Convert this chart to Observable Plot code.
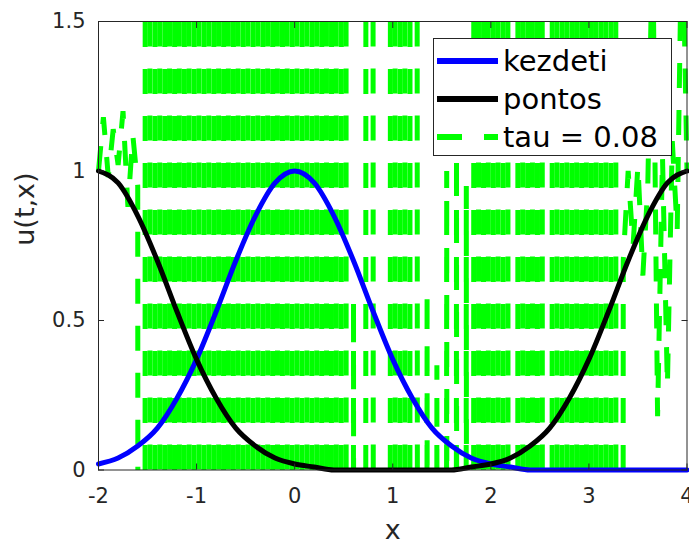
<!DOCTYPE html>
<html>
<head>
<meta charset="utf-8">
<script src="https://cdn.jsdelivr.net/npm/d3@7"></script>
<script src="https://cdn.jsdelivr.net/npm/@observablehq/plot@0.6"></script>
<style>
  html, body { margin: 0; padding: 0; background: #fff; }
  #wrap { position: relative; width: 689px; height: 544px; font-family: "DejaVu Sans", sans-serif; }
  #legend {
    position: absolute; left: 433px; top: 38px; width: 237px;
    border: 1px solid #262626; background: #fff; box-sizing: content-box;
    padding-top: 3px; height: 113px;
  }
  #legend .row { display: flex; align-items: center; height: 38px; }
  #legend svg { margin-left: 3px; flex: none; }
  #legend span { margin-left: 5px; font-size: 29px; color: #000; white-space: pre; line-height: 38px; }
  g[aria-label="ylabel"] text { letter-spacing: 3px; }
</style>
</head>
<body>
<div id="wrap">
  <div id="chart"></div>
  <div id="legend"></div>
</div>
<script>
// Axis ticks
const xTicks = [-2, -1, 0, 1, 2, 3, 4];
const yTicks = [0, 0.5, 1, 1.5];

// Initial profile ("kezdeti") and exact solution ("pontos") on a 0.2 grid
const profileX = d3.range(-2, 4.0001, 0.2);
const kezdeti = [0.02, 0.04, 0.08, 0.14, 0.24, 0.37, 0.53, 0.70, 0.85, 0.96,
                 1.00, 0.96, 0.85, 0.70, 0.53, 0.37, 0.24, 0.14, 0.08, 0.04,
                 0.02, 0.01, 0, 0, 0, 0, 0, 0, 0, 0, 0];
const pontos  = [1.00, 0.96, 0.85, 0.70, 0.53, 0.37, 0.24, 0.14, 0.08, 0.04,
                 0.02, 0.01, 0, 0, 0, 0, 0, 0, 0, 0.01,
                 0.02, 0.04, 0.08, 0.14, 0.24, 0.37, 0.53, 0.70, 0.85, 0.96, 1.00];

// Numerical solution with tau = 0.08 on a 0.05 grid (unstable: +-40 means far off scale)
const tauX = d3.range(-2, 4.0001, 0.05);
const tau008 = [
  1.00, 1.18, 0.98, 1.14, 1.02, 1.20, 0.88, 1.12, 0.95, -40,
  40, -40, 40, -40, 40, -40, 40, -40, 40, -40,
  40, -40, 40, -40, 40, -40, 40, -40, 40, -40,
  40, -40, 40, -40, 40, -40, 40, -40, 40, -40,
  40, -40, 40, -40, 40, -40, 40, -40, 40, -40,
  40,
  -40, 0.57, -40, -40, 40, 1.05, -40, -40, -40, 40,
  -40, 40, -40, 40, 0.70, -40, 0.60, -40, 0.35, -40,
  1.00, -40, 1.05, -40, 0.95, -40,
  40, -40, 40, -40, 40, -40, 40, -40, -40, 40,
  -40, 40, -40, 40, -40, -40, 40, -40, 40, -40,
  40, -40, 40, -40, 40, -40, 40, -40, 40, -40,
  0.70, 1.00, 0.75, 1.02, 0.65, 0.95, 1.80, 0.18, 1.05, 0.28,
  1.10, 0.80, 1.90, 1.00
];

const seriesNames = ["kezdeti", "pontos", "tau = 0.08"];
const seriesColors = ["#0000ff", "#000000", "#00ff00"];

const yMin = 0, yMax = 1.5;

// Cut the dashed polyline at the axes limits so each visible run starts its dash pattern at the edge
function clipRuns(xs, ys) {
  const out = [];
  let run = -1, open = false;
  for (let i = 0; i < xs.length - 1; i++) {
    const ax = xs[i], ay = ys[i], bx = xs[i + 1], by = ys[i + 1];
    const dy = by - ay;
    let t0 = 0, t1 = 1;
    if (dy === 0) {
      if (ay < yMin || ay > yMax) { open = false; continue; }
    } else {
      let ta = (yMin - ay) / dy, tb = (yMax - ay) / dy;
      if (ta > tb) [ta, tb] = [tb, ta];
      t0 = Math.max(0, ta); t1 = Math.min(1, tb);
      if (t0 > t1) { open = false; continue; }
    }
    const p0 = {x: ax + (bx - ax) * t0, y: ay + dy * t0};
    const p1 = {x: ax + (bx - ax) * t1, y: ay + dy * t1};
    if (t0 > 0 || !open) { run++; out.push({...p0, run}); open = true; }
    out.push({...p1, run});
    if (t1 < 1) open = false;
  }
  return out;
}

const tauPts = clipRuns(tauX, tau008);
const kezdetiPts = profileX.map((x, i) => ({x, y: kezdeti[i]}));
const pontosPts = profileX.map((x, i) => ({x, y: pontos[i]}));

const axisColor = "#262626";

const chart = Plot.plot({
  width: 689,
  height: 544,
  marginLeft: 98,
  marginRight: 2.5,
  marginTop: 21,
  marginBottom: 74.5,
  style: {fontFamily: "DejaVu Sans", background: "#fff", color: axisColor, overflow: "visible"},
  x: {domain: [-2, 4], axis: null},
  y: {domain: [yMin, yMax], axis: null},
  marks: [
    Plot.line(tauPts, {x: "x", y: "y", z: "run", stroke: seriesColors[2], strokeWidth: 5,
      strokeDasharray: "25,22", strokeLinecap: "butt", strokeLinejoin: "miter"}),
    Plot.line(kezdetiPts, {x: "x", y: "y", stroke: seriesColors[0], strokeWidth: 5, curve: "monotone-x"}),
    Plot.line(pontosPts, {x: "x", y: "y", stroke: seriesColors[1], strokeWidth: 5, curve: "monotone-x"}),
    Plot.frame({stroke: axisColor, strokeWidth: 1}),
    Plot.axisX({anchor: "bottom", ticks: xTicks, tickSize: -6, tickFormat: () => "", label: null, stroke: axisColor}),
    Plot.axisX({anchor: "top", ticks: xTicks, tickSize: -6, tickFormat: () => "", label: null, stroke: axisColor}),
    Plot.axisY({anchor: "left", ticks: yTicks, tickSize: -6, tickFormat: () => "", label: null, stroke: axisColor}),
    Plot.axisY({anchor: "right", ticks: yTicks, tickSize: -6, tickFormat: () => "", label: null, stroke: axisColor}),
    Plot.axisX({anchor: "bottom", ticks: xTicks, tickSize: 0, tickPadding: 18, tickFormat: d => String(d),
      label: null, fontSize: 21, fill: axisColor}),
    Plot.axisY({anchor: "left", ticks: yTicks, tickSize: 0, tickPadding: 13, tickFormat: d => String(d),
      label: null, fontSize: 21, fill: axisColor}),
    Plot.text(["x"], {frameAnchor: "bottom", lineAnchor: "middle", dy: 60, fontSize: 27, fill: axisColor}),
    Plot.text(["u(t,x)"], {frameAnchor: "left", dx: -73, rotate: -90, fontSize: 27, fill: axisColor, ariaLabel: "ylabel"})
  ]
});
document.getElementById("chart").appendChild(chart);

// Legend inside the axes, upper right
const legend = document.getElementById("legend");
seriesNames.forEach((name, i) => {
  const row = document.createElement("div");
  row.className = "row";
  const dash = i === 2 ? ' stroke-dasharray="25,22"' : "";
  row.innerHTML = `<svg width="61" height="10"><line x1="0" y1="5" x2="61" y2="5" stroke="${seriesColors[i]}" stroke-width="6"${dash}/></svg>`;
  const label = document.createElement("span");
  label.textContent = name;
  row.appendChild(label);
  legend.appendChild(row);
});
</script>
</body>
</html>
